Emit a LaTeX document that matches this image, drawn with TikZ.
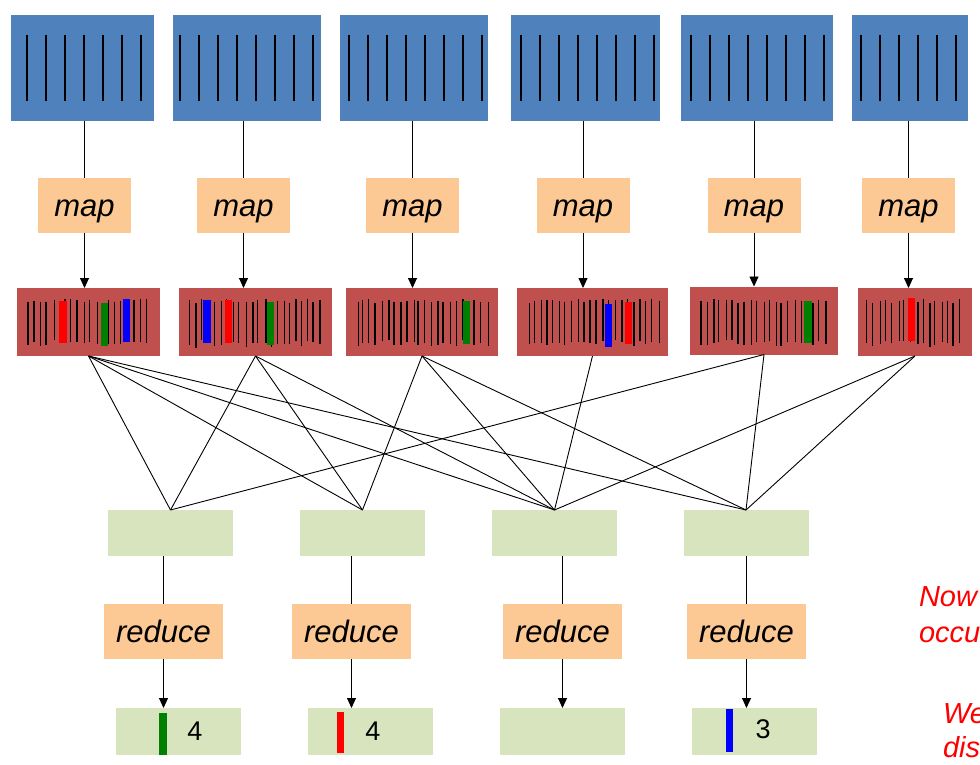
\documentclass[tikz,border=0pt]{standalone}
\usepackage{fontspec}
\setmainfont{Liberation Sans}
\usetikzlibrary{arrows.meta}
\definecolor{inblue}{HTML}{4F81BD}
\definecolor{midred}{HTML}{C0504D}
\definecolor{funcorange}{HTML}{FCC994}
\definecolor{grpgreen}{HTML}{D7E4BD}
\definecolor{keygreen}{HTML}{008000}

\begin{document}
\begin{tikzpicture}[x=1pt,y=-1pt,
    >={Triangle[length=10pt,width=9pt]},
    every node/.style={inner sep=0pt,outer sep=0pt},
    inblk/.style={fill=inblue,minimum height=106pt},
    midblk/.style={fill=midred,minimum height=68pt},
    func/.style={fill=funcorange,minimum width=93pt,minimum height=55pt,
      text height=22.5pt,text depth=0pt,font=\fontsize{31}{31}\selectfont\itshape},
    red func/.style={func,minimum width=119pt},
    grp/.style={fill=grpgreen,minimum width=125pt,minimum height=46pt},
    outblk/.style={fill=grpgreen,minimum width=125pt,minimum height=47pt},
    num/.style={font=\fontsize{27}{27}\selectfont},
    note/.style={text=red,font=\fontsize{29}{29}\selectfont\itshape,anchor=base west},
    tick/.style={line width=1.8pt},
    edge/.style={line width=0.9pt},
    conn/.style={line width=0.9pt}]
  \useasboundingbox (0,0) rectangle (980,765);
  %% input splits
  \node[inblk,minimum width=143pt] (B1) at (82.5,68) {};
  \node[inblk,minimum width=148pt] (B2) at (247,68) {};
  \node[inblk,minimum width=148pt] (B3) at (414,68) {};
  \node[inblk,minimum width=149pt] (B4) at (585.5,68) {};
  \node[inblk,minimum width=152pt] (B5) at (757,68) {};
  \node[inblk,minimum width=116pt] (B6) at (910,68) {};
  \foreach \s/\n in {27/6,180/7,349/7,521/7,691/7,861/5}
    \foreach \k in {0,...,\n}
      \draw[tick] ({\s+19*\k},35) -- ({\s+19*\k},101);
  %% map
  \node[func] (M1) at (84.5,205.5) {map};
  \node[func] (M2) at (243.5,205.5) {map};
  \node[func] (M3) at (412.5,205.5) {map};
  \node[func] (M4) at (583,205.5) {map};
  \node[func] (M5) at (754,205.5) {map};
  \node[func] (M6) at (908.5,205.5) {map};
  %% intermediate pairs
  \node[midblk,minimum width=143pt] (R1) at (88.5,322) {};
  \node[midblk,minimum width=153pt] (R2) at (255.5,322) {};
  \node[midblk,minimum width=152pt] (R3) at (422,322) {};
  \node[midblk,minimum width=151pt] (R4) at (592.5,322) {};
  \node[midblk,minimum width=148pt] (R5) at (764,320.5) {};
  \node[midblk,minimum width=114pt] (R6) at (915,322) {};
  \pgfmathsetseed{11}
  \foreach \a/\b in {27/148,189/322,356/488,527/658,700/828,866/962} {
    \pgfmathtruncatemacro\nb{(\b-\a)/6.2}
    \foreach \k in {0,...,\nb}
      \draw[line width=1.3pt] ({\a+6.2*\k+2.5*rnd},{299+4*rnd}) -- ++(0,{40+5*rnd});
  }
  \fill[red] (59,301) rectangle (67,343);
  \fill[keygreen] (101,303) rectangle (108,346);
  \fill[blue] (123,299) rectangle (130,342);
  \fill[blue] (203,300) rectangle (211,343);
  \fill[red] (225,300) rectangle (232,343);
  \fill[keygreen] (267,302) rectangle (274,345);
  \fill[keygreen] (463,301) rectangle (470,344);
  \fill[blue] (605,304) rectangle (612,347);
  \fill[red] (625,302) rectangle (632,344);
  \fill[keygreen] (804,301) rectangle (812,343);
  \fill[red] (908,298) rectangle (915,341);
  %% groups
  \node[grp] (G1) at (170.5,533) {};
  \node[grp] (G2) at (362.5,533) {};
  \node[grp] (G3) at (554.5,533) {};
  \node[grp] (G4) at (746,533) {};
  %% reduce
  \node[red func] (D1) at (163.5,631) {reduce};
  \node[red func] (D2) at (351.5,631) {reduce};
  \node[red func] (D3) at (562.5,631) {reduce};
  \node[red func] (D4) at (746.5,631) {reduce};
  %% output
  \node[outblk] (O1) at (178.5,731.5) {};
  \node[outblk] (O2) at (370.5,731.5) {};
  \node[outblk] (O3) at (562.5,731.5) {};
  \node[outblk] (O4) at (754.5,731.5) {};
  \fill[keygreen] (159,713) rectangle (167,755);
  \fill[red] (337,712) rectangle (344,753);
  \fill[blue] (726,709) rectangle (733,752);
  \node[num] (C1) at (195,731.5) {4};
  \node[num] (C2) at (373,731.5) {4};
  \node[num] (C4) at (763,729) {3};
  %% connectors
  \foreach \m/\b/\r in {M1/B1/R1,M2/B2/R2,M3/B3/R3,M4/B4/R4,M5/B5/R5,M6/B6/R6} {
    \draw[conn] (\m.north |- \b.south) -- (\m.north);
    \draw[conn,->] (\m.south) -- (\m.south |- \r.north);
  }
  \foreach \r/\g in {R1/G1,R1/G2,R1/G3,R1/G4,R2/G1,R2/G2,R2/G3,R3/G2,R3/G3,R3/G4,
                     R4/G3,R5/G1,R5/G4,R6/G3,R6/G4}
    \draw[edge] (\r.south) -- (\g.north);
  \foreach \d/\g/\o in {D1/G1/O1,D2/G2/O2,D3/G3/O3,D4/G4/O4} {
    \draw[conn] (\d.north |- \g.south) -- (\d.north);
    \draw[conn,->] (\d.south) -- (\d.south |- \o.north);
  }
  %% side remarks
  \node[note] (T1) at (919,606) {Now};
  \node[note] (T2) at (919,642) {occu};
  \node[note] (T3) at (943,723) {We};
  \node[note] (T4) at (943,757) {dis};
\end{tikzpicture}
\end{document}
